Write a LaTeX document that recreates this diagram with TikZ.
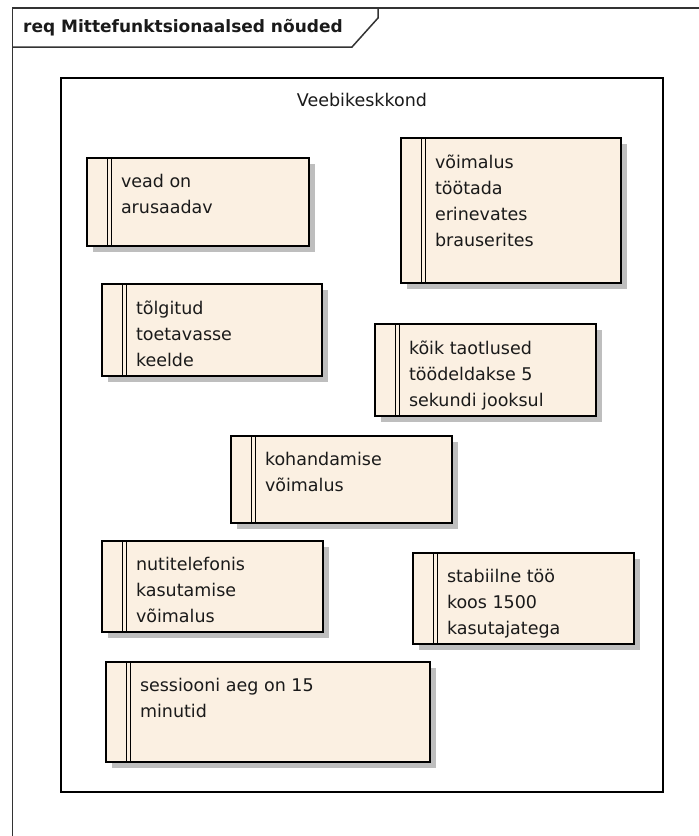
\documentclass[tikz,border=0pt]{standalone}
\usepackage{fontspec}
\setmainfont{DejaVu Sans}
\usetikzlibrary{backgrounds}
\definecolor{reqfill}{HTML}{FBF0E2}
\definecolor{shadowc}{HTML}{BEBEBE}
\definecolor{ink}{HTML}{1A1A1A}
\definecolor{framec}{HTML}{333333}
\tikzset{
  reqbox/.style={draw=black, line width=1.4pt, fill=reqfill, anchor=north west, inner sep=0pt, outer sep=0pt},
  dbl/.style={draw=black, line width=1pt},
  reqtext/.style={anchor=north west, inner sep=0pt, outer sep=0pt, align=left, text=ink,
    font=\fontsize{17.5}{26}\selectfont, execute at begin node=\strut},
  frameline/.style={draw=framec, line width=1.5pt},
  envbox/.style={draw=black, line width=1.5pt, anchor=north west, inner sep=0pt, outer sep=0pt},
  lbl/.style={inner sep=0pt, text=ink, font=\fontsize{17.5}{26}\selectfont},
}
\newcommand\reqnode[6]{%
  \pgfmathsetmacro\rqw{#4-#2}%
  \pgfmathsetmacro\rqh{#5-#3}%
  \node[reqbox, minimum width=\rqw pt, minimum height=\rqh pt] (#1) at (#2,#3) {};
  \begin{scope}[on background layer]
    \fill[shadowc] ([shift={(6pt,-6pt)}]#1.north west) rectangle ([shift={(6pt,-6pt)}]#1.south east);
  \end{scope}
  \draw[dbl] ([xshift=20pt]#1.north west) -- ([xshift=20pt]#1.south west);
  \draw[dbl] ([xshift=24pt]#1.north west) -- ([xshift=24pt]#1.south west);
  \node[reqtext] (#1t) at ([shift={(34pt,-16.5pt)}]#1.north west) {#6};
}
\begin{document}
\begin{tikzpicture}[x=1pt,y=-1pt]
\useasboundingbox (0,0) rectangle (699,836);
\begin{scope}[on background layer]
  \fill[white] (0,0) rectangle (699,836);
\end{scope}
% frame
\coordinate (fr) at (699,8);
\coordinate (ftl) at (12.5,8);
\coordinate (fbl) at (12.5,836);
\coordinate (hb) at (12.5,47);
\coordinate (hd) at (352,47);
\coordinate (hn) at (378,18);
\coordinate (ht) at (378,8);
\draw[frameline] (fr) -- (ftl) -- (fbl);
\draw[frameline] (hb) -- (hd) -- (hn) -- (ht);
\node[inner sep=0pt, anchor=west, text=ink, font=\fontsize{17}{20}\selectfont\bfseries] (title) at (23,28) {req Mittefunktsionaalsed nõuded};
% environment
\node[envbox, minimum width=602pt, minimum height=714pt] (env) at (61,78) {};
\node[lbl] (envlbl) at ([yshift=-22pt]env.north) {Veebikeskkond};
% requirements
\reqnode{b1}{87}{158}{309}{246}{vead on\\arusaadav}
\reqnode{b2}{401}{138}{621}{283}{võimalus\\töötada\\erinevates\\brauserites}
\reqnode{b3}{375}{324}{596}{416}{kõik taotlused\\töödeldakse 5\\sekundi jooksul}
\reqnode{b4}{102}{284}{322}{376}{tõlgitud\\toetavasse\\keelde}
\reqnode{b5}{231}{436}{452}{523}{kohandamise\\võimalus}
\reqnode{b6}{102}{541}{323}{632}{nutitelefonis\\kasutamise\\võimalus}
\reqnode{b7}{413}{553}{634}{644}{stabiilne töö\\koos 1500\\kasutajatega}
\reqnode{b8}{106}{662}{430}{762}{sessiooni aeg on 15\\minutid}
\end{tikzpicture}
\end{document}
